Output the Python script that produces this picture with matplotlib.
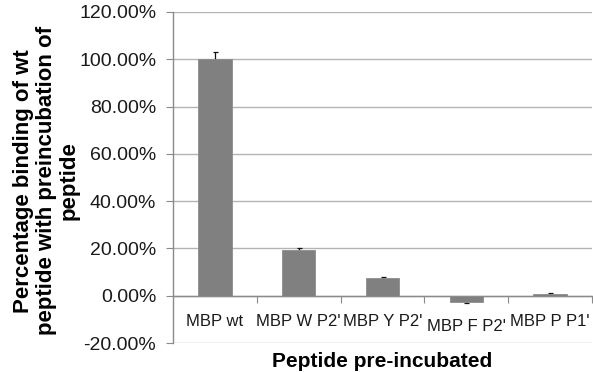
import matplotlib
matplotlib.use('Agg')
import matplotlib.pyplot as plt
from matplotlib.ticker import FixedLocator, FuncFormatter

# data (percent)
peptides = ["MBP wt", "MBP W P2'", "MBP Y P2'", "MBP F P2'", "MBP P P1'"]
binding = [100.0, 19.5, 7.5, -2.5, 0.8]
errors = [3.2, 0.8, 0.5, 0.5, 0.3]
yticks = [-20, 0, 20, 40, 60, 80, 100, 120]

plt.rcParams['font.family'] = ['Liberation Sans', 'DejaVu Sans']

fig = plt.figure(figsize=(5.93, 3.72), dpi=100)
W, H = 593, 372
ax = fig.add_axes([173 / W, 1 - 343 / H, (592 - 173) / W, (343 - 12) / H])

x = list(range(len(peptides)))

# bars drawn above the error bars so only the outer half shows (like Excel)
ax.bar(x, binding, width=0.4, color='#808080', edgecolor='#8c8c8c', linewidth=0.6, zorder=3)
ax.errorbar(x, binding, yerr=errors, fmt='none', ecolor='#111111', elinewidth=0.9,
            capsize=1.8, capthick=0.9, zorder=2)

ax.set_xlim(-0.5, len(peptides) - 0.5)
ax.set_ylim(-20, 120)
ax.set_yticks(yticks)
ax.yaxis.set_major_formatter(FuncFormatter(lambda v, p: f'{v:.2f}%'))
ax.grid(axis='y', color='#b4b4b4', linewidth=1.0, zorder=0)
ax.set_axisbelow(True)

for s in ['top', 'right']:
    ax.spines[s].set_visible(False)
ax.spines['left'].set_color('#8a8a8a')
ax.spines['left'].set_linewidth(1.0)
ax.spines['bottom'].set_position(('data', 0))
ax.spines['bottom'].set_color('#8a8a8a')
ax.spines['bottom'].set_linewidth(1.0)

ax.tick_params(axis='y', direction='out', length=5, color='#8a8a8a', pad=7,
               labelsize=14, labelcolor='#1a1a1a')

# category boundaries get the tick marks, centres get the labels
ax.xaxis.set_major_locator(FixedLocator([i + 0.5 for i in range(len(peptides))]))
ax.xaxis.set_major_formatter(FuncFormatter(lambda v, p: ''))
ax.xaxis.set_minor_locator(FixedLocator(x))
ax.set_xticklabels(peptides, minor=True)
ax.tick_params(axis='x', which='major', direction='out', length=5, color='#8a8a8a')
ax.tick_params(axis='x', which='minor', length=0, pad=13, labelsize=12, labelcolor='#1a1a1a')
ax.xaxis.get_minor_ticks()[3].set_pad(17)

ax.set_ylabel("Percentage binding of wt\npeptide with preincubation of\npeptide",
              fontsize=16, fontweight='bold', linespacing=1.12)
ax.yaxis.label.set_va('center')
ax.yaxis.set_label_coords(-0.302, 0.49)

ax.set_xlabel("Peptide pre-incubated", fontsize=15, fontweight='bold')
ax.xaxis.label.set_va('baseline')
ax.xaxis.set_label_coords(0.5, -0.0725)

fig.savefig('out.png', dpi=100)
